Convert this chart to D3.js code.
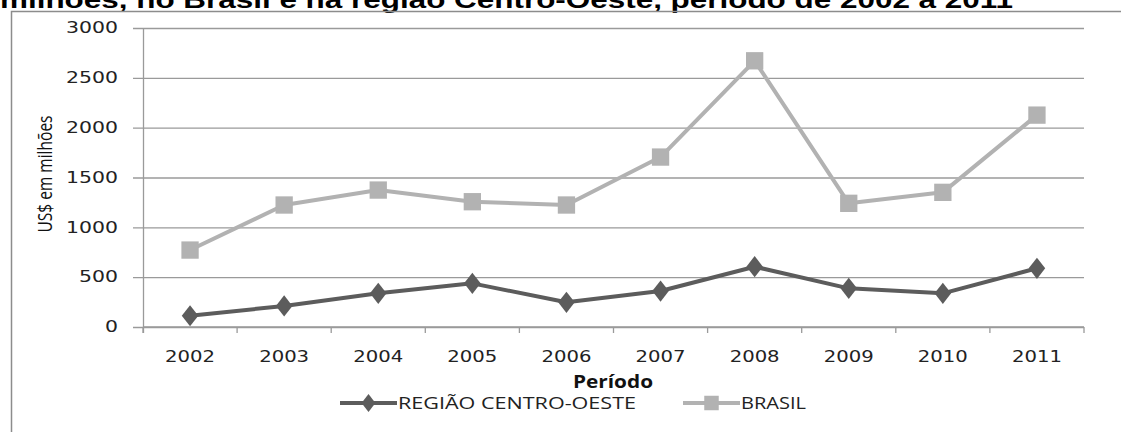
<!DOCTYPE html>
<html>
<head>
<meta charset="utf-8">
<script src="https://cdn.jsdelivr.net/npm/d3@7"></script>
<style>
  body { margin: 0; background: #fff; }
  svg { display: block; }
</style>
</head>
<body>
<div id="chart"></div>
<script>
// data
var years = ["2002", "2003", "2004", "2005", "2006", "2007", "2008", "2009", "2010", "2011"]
var centroOeste = [113, 211, 338, 438, 248, 361, 605, 388, 338, 589]
var brasil = [772, 1224, 1374, 1257, 1224, 1705, 2671, 1241, 1351, 2126]
var yTicks = [0, 500, 1000, 1500, 2000, 2500, 3000]

var width = 1121,
    height = 432

var svg = d3.select("#chart")
  .append("svg")
    .attr("width", width)
    .attr("height", height)

// title, cut at the top like in the picture
svg.append("text")
    .attr("x", 0)
    .attr("y", 8)
    .attr("font-family", "Liberation Sans, Arial, sans-serif")
    .attr("font-weight", "bold")
    .attr("font-size", 23)
    .attr("textLength", 1013)
    .attr("lengthAdjust", "spacingAndGlyphs")
    .text("milhões, no Brasil e na região Centro-Oeste, período de 2002 a 2011")

// chart frame (only left and top edges are in view)
svg.append("path")
    .attr("d", "M11.5,440 V11.5 H1130")
    .attr("fill", "none")
    .attr("stroke", "#8c8c8c")
    .attr("stroke-width", 1.5)

var x = d3.scaleBand()
  .domain(years)
  .range([143, 1084])
  .padding(0)

var y = d3.scaleLinear()
  .domain([0, 3000])
  .range([327, 28])

var tickFont = "DejaVu Sans, Verdana, sans-serif"
var labelFont = "Open Sans, sans-serif"

// gridlines + y labels
var yAxis = svg.append("g")
    .attr("transform", "translate(143,0)")
    .call(d3.axisLeft(y).tickValues(yTicks).tickSize(10).tickPadding(15)
      .tickFormat(d3.format("d")))
yAxis.select(".domain").remove()
yAxis.selectAll(".tick line")
    .attr("x1", -10)
    .attr("x2", 1084 - 143)
    .attr("stroke", "#9a9a9a")
    .attr("stroke-width", 1.3)
yAxis.selectAll(".tick text")
    .attr("font-family", tickFont)
    .attr("font-size", 15)
    .attr("fill", "#222")
    .attr("textLength", function(d) { return String(d).length * 13 })
    .attr("lengthAdjust", "spacingAndGlyphs")

// vertical axis line
svg.append("line")
    .attr("x1", 143.5).attr("x2", 143.5)
    .attr("y1", y(3000)).attr("y2", y(0) + 6)
    .attr("stroke", "#9a9a9a")
    .attr("stroke-width", 1.3)

// x axis: ticks on the band edges, labels in the centre
var edges = years.map(function(d) { return x(d) }).concat([x.range()[1]])
svg.append("line")
    .attr("x1", 143).attr("x2", 1084)
    .attr("y1", y(0)).attr("y2", y(0))
    .attr("stroke", "#9a9a9a")
    .attr("stroke-width", 1.5)
svg.selectAll(".xtick")
  .data(edges)
  .enter()
  .append("line")
    .attr("class", "xtick")
    .attr("x1", function(d) { return d }).attr("x2", function(d) { return d })
    .attr("y1", y(0)).attr("y2", y(0) + 6)
    .attr("stroke", "#9a9a9a")
    .attr("stroke-width", 1.3)
svg.selectAll(".xlabel")
  .data(years)
  .enter()
  .append("text")
    .attr("class", "xlabel")
    .attr("x", function(d) { return x(d) + x.bandwidth() / 2 })
    .attr("y", 362)
    .attr("text-anchor", "middle")
    .attr("font-family", tickFont)
    .attr("font-size", 15)
    .attr("fill", "#222")
    .attr("textLength", 50)
    .attr("lengthAdjust", "spacingAndGlyphs")
    .text(function(d) { return d })

// axis titles
svg.append("text")
    .attr("transform", "translate(52,174) rotate(-90)")
    .attr("text-anchor", "middle")
    .attr("font-family", labelFont)
    .attr("font-size", 20)
    .attr("fill", "#111")
    .attr("textLength", 117)
    .attr("lengthAdjust", "spacingAndGlyphs")
    .text("US$ em milhões")

svg.append("text")
    .attr("x", 613)
    .attr("y", 388)
    .attr("text-anchor", "middle")
    .attr("font-family", labelFont)
    .attr("font-weight", "bold")
    .attr("font-size", 17)
    .attr("fill", "#111")
    .attr("textLength", 80)
    .attr("lengthAdjust", "spacingAndGlyphs")
    .text("Período")

// series
var series = [
  { name: "REGIÃO CENTRO-OESTE", values: centroOeste, color: "#5c5c5c", shape: d3.symbolDiamond, size: 130, textLen: 238 },
  { name: "BRASIL", values: brasil, color: "#b2b2b2", shape: d3.symbolSquare, size: 300, textLen: 65 }
]

var line = d3.line()
  .x(function(d, i) { return x(years[i]) + x.bandwidth() / 2 })
  .y(function(d) { return y(d) })

// Brasil drawn first, centre-oeste on top
series.slice().reverse().forEach(function(s) {
  svg.append("path")
      .datum(s.values)
      .attr("d", line)
      .attr("fill", "none")
      .attr("stroke", s.color)
      .attr("stroke-width", 4)
      .attr("stroke-linejoin", "round")

  svg.selectAll(null)
    .data(s.values)
    .enter()
    .append("path")
      .attr("d", d3.symbol().type(s.shape).size(s.size))
      .attr("transform", function(d, i) {
        var sx = s.shape === d3.symbolDiamond ? 1.35 : 1
        return "translate(" + (x(years[i]) + x.bandwidth() / 2) + "," + y(d) + ") scale(" + sx + ",1)"
      })
      .attr("fill", s.color)
})

// legend
var legendPos = [{ x1: 340, x2: 397 }, { x1: 683, x2: 740 }]
series.forEach(function(s, i) {
  var g = svg.append("g")
  var p = legendPos[i]
  g.append("line")
      .attr("x1", p.x1).attr("x2", p.x2)
      .attr("y1", 403).attr("y2", 403)
      .attr("stroke", s.color)
      .attr("stroke-width", 4)
  g.append("path")
      .attr("d", d3.symbol().type(s.shape).size(s.size * 0.7))
      .attr("transform", "translate(" + (p.x1 + p.x2) / 2 + ",403)" + (i === 0 ? " scale(1.35,1)" : ""))
      .attr("fill", s.color)
  g.append("text")
      .attr("x", p.x2 + 1)
      .attr("y", 409)
      .attr("font-family", labelFont)
      .attr("font-size", 17)
      .attr("fill", "#222")
      .attr("textLength", s.textLen)
      .attr("lengthAdjust", "spacingAndGlyphs")
      .text(s.name)
})
</script>
</body>
</html>
